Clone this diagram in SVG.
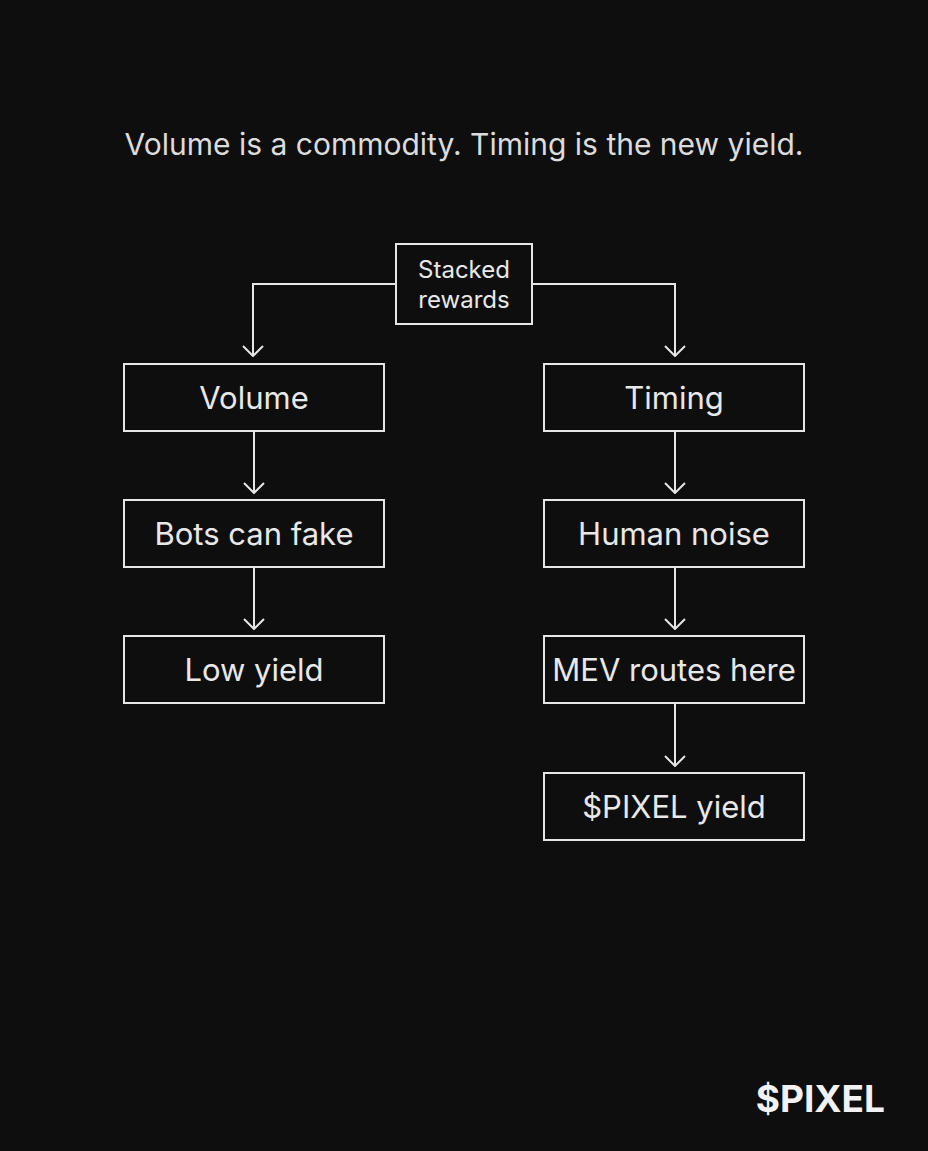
<svg xmlns="http://www.w3.org/2000/svg" width="928" height="1151" viewBox="0 0 928 1151">
<defs>
<style>
.box{fill:#0e0e0e;stroke:#e6e6e6;stroke-width:2}
.lbl{font-family:Inter,"Noto Sans",sans-serif;font-size:31px;fill:#e8e8e8;text-anchor:middle}
.small{font-size:24px}
.con{fill:none;stroke:#e6e6e6;stroke-width:2}
</style>
<marker id="arr" viewBox="0 0 12 22" refX="11" refY="11" markerWidth="12" markerHeight="22" markerUnits="userSpaceOnUse" orient="auto">
<path d="M1,1 L11,11 L1,21" fill="none" stroke="#e6e6e6" stroke-width="2"/>
</marker>
</defs>
<rect width="928" height="1151" fill="#0e0e0e"/>
<text x="464" y="155" class="lbl" style="font-size:30px;fill:#dcdcdc">Volume is a commodity. Timing is the new yield.</text>
<g id="connectors">
<path class="con" d="M395,284 H253 V356" marker-end="url(#arr)"/>
<path class="con" d="M532,284 H675 V356" marker-end="url(#arr)"/>
<path class="con" d="M254,432 V493" marker-end="url(#arr)"/>
<path class="con" d="M254,568 V629" marker-end="url(#arr)"/>
<path class="con" d="M675,432 V493" marker-end="url(#arr)"/>
<path class="con" d="M675,568 V629" marker-end="url(#arr)"/>
<path class="con" d="M675,704 V766" marker-end="url(#arr)"/>
</g>
<g id="stacked"><rect class="box" x="396" y="244" width="136" height="80"/><text class="lbl small" x="464" y="278">Stacked</text><text class="lbl small" x="464" y="308">rewards</text></g>
<g id="volume"><rect class="box" x="124" y="364" width="260" height="67"/><text class="lbl" x="254" y="409">Volume</text></g>
<g id="bots"><rect class="box" x="124" y="500" width="260" height="67"/><text class="lbl" x="254" y="545">Bots can fake</text></g>
<g id="low"><rect class="box" x="124" y="636" width="260" height="67"/><text class="lbl" x="254" y="681">Low yield</text></g>
<g id="timing"><rect class="box" x="544" y="364" width="260" height="67"/><text class="lbl" x="674" y="409">Timing</text></g>
<g id="human"><rect class="box" x="544" y="500" width="260" height="67"/><text class="lbl" x="674" y="545">Human noise</text></g>
<g id="mev"><rect class="box" x="544" y="636" width="260" height="67"/><text class="lbl" x="674" y="681">MEV routes here</text></g>
<g id="pixel"><rect class="box" x="544" y="773" width="260" height="67"/><text class="lbl" x="674" y="818">$PIXEL yield</text></g>
<text x="885" y="1112" style="font-family:Inter,'Noto Sans',sans-serif;font-size:37px;font-weight:700;fill:#f2f2f2;text-anchor:end">$PIXEL</text>
</svg>
